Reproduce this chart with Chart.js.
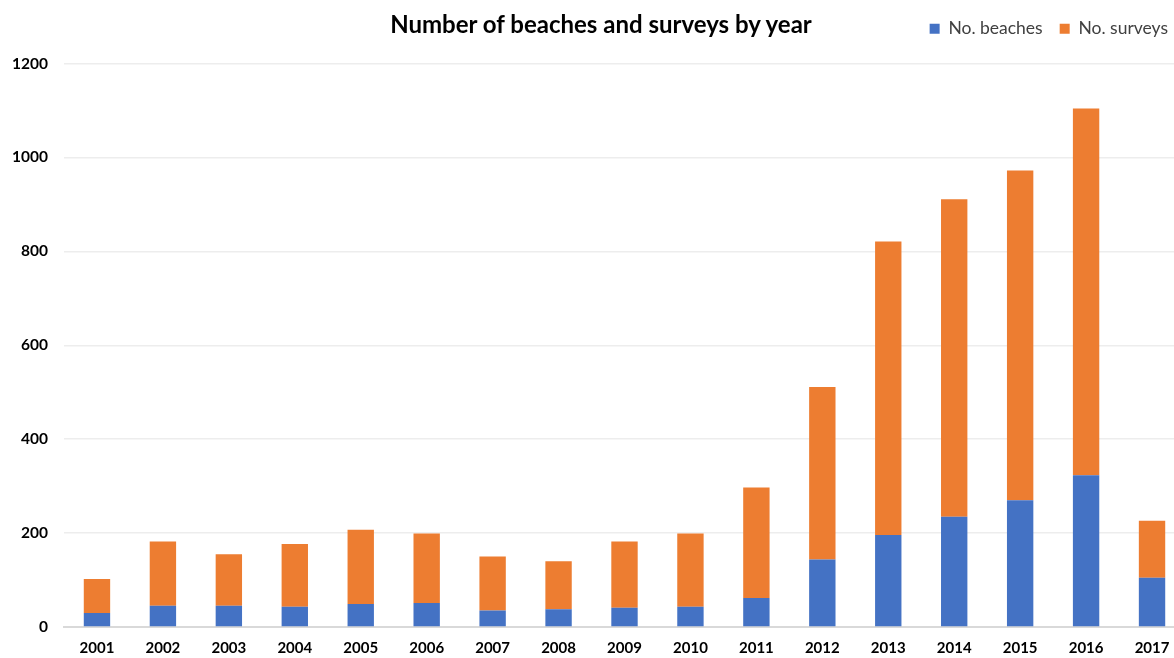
<!DOCTYPE html>
<html>
<head>
<meta charset="utf-8">
<script src="https://cdn.jsdelivr.net/npm/chart.js@4/dist/chart.umd.min.js"></script>
<style>
  html, body { margin: 0; padding: 0; background: #fff; overflow: hidden; }
  #wrap { position: relative; width: 1200px; height: 658px; }
  #title {
    position: absolute; left: 0; top: 9px; width: 1202px; text-align: center;
    font: bold 24px Lato, "Open Sans", sans-serif; color: #000;
  }
</style>
</head>
<body>
<div id="wrap">
  <canvas id="chart" width="1200" height="658"></canvas>
  <div id="title">Number of beaches and surveys by year</div>
</div>
<script>
(function () {
  "use strict";

  const BLUE = "#4472C4";
  const ORANGE = "#ED7D31";
  const FONT = "Lato, 'Open Sans', sans-serif";

  const years = ["2001", "2002", "2003", "2004", "2005", "2006", "2007", "2008", "2009",
    "2010", "2011", "2012", "2013", "2014", "2015", "2016", "2017"];
  const beaches = [30, 45, 45, 43, 49, 51, 35, 38, 41, 43, 62, 144, 196, 235, 270, 323, 105];
  const surveys = [72, 137, 110, 134, 158, 148, 115, 102, 141, 156, 235, 367, 625, 676, 702, 781, 121];
  const yTicks = [0, 200, 400, 600, 800, 1000, 1200];

  // push the plot area down below the legend row
  const legendGap = {
    id: "legendGap",
    beforeInit(chart) {
      const fit = chart.legend.fit;
      chart.legend.fit = function () {
        fit.bind(chart.legend)();
        this.height += 16;
      };
    }
  };

  new Chart(document.getElementById("chart"), {
    type: "bar",
    data: {
      labels: years,
      datasets: [
        { label: "No. beaches", data: beaches, backgroundColor: BLUE,
          categoryPercentage: 1, barPercentage: 0.4 },
        { label: "No. surveys", data: surveys, backgroundColor: ORANGE,
          categoryPercentage: 1, barPercentage: 0.4 }
      ]
    },
    plugins: [legendGap],
    options: {
      responsive: false,
      animation: false,
      layout: { padding: { top: 3, right: 15, left: 0, bottom: 0 } },
      scales: {
        x: {
          stacked: true,
          grid: { display: false, drawTicks: false },
          border: { color: "#d9d9d9", width: 2 },
          ticks: { color: "#000", padding: 12, font: { family: FONT, size: 15, weight: "bold" } },
          afterFit: (s) => { s.height = 31; }
        },
        y: {
          stacked: true,
          min: 0,
          max: 1200,
          afterBuildTicks: (s) => { s.ticks = yTicks.map((v) => ({ value: v })); },
          grid: { color: "#ededed", lineWidth: 1.5, drawTicks: false },
          border: { display: false },
          ticks: {
            color: "#000", padding: 16, font: { family: FONT, size: 15.5, weight: "bold" },
            callback: (v) => String(v)
          },
          afterFit: (s) => { s.width = 64; }
        }
      },
      plugins: {
        legend: {
          position: "top",
          align: "end",
          labels: {
            boxWidth: 10, boxHeight: 10, padding: 17, color: "#404040",
            font: { family: FONT, size: 17.5 }
          }
        },
        tooltip: { enabled: false }
      }
    }
  });
})();
</script>
</body>
</html>
